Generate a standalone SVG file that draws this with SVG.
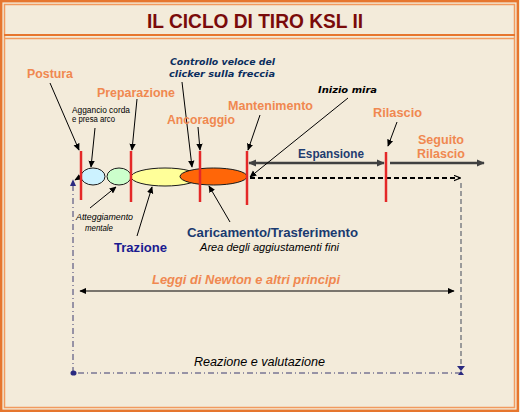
<svg xmlns="http://www.w3.org/2000/svg" width="520" height="412" viewBox="0 0 520 412">
<defs>
<style>
.lbl{font-family:"Liberation Sans",Arial,sans-serif;font-weight:bold;font-size:12.5px;fill:#F08850}
.blue{font-family:"Liberation Sans",Arial,sans-serif;font-weight:bold;font-size:13px;fill:#1F3C70}
.note{font-family:"DejaVu Sans",Verdana,sans-serif;font-weight:bold;font-style:italic;font-size:9px;fill:#0B2E5E}
.small{font-family:"Liberation Sans",Arial,sans-serif;font-size:8.5px;fill:#000}
.ital{font-family:"Liberation Sans",Arial,sans-serif;font-style:italic;font-size:10px;fill:#000}
.red{stroke:#E42828;stroke-width:2.5}
.arr{stroke:#000;stroke-width:1;fill:none;marker-end:url(#ah)}
.ell{stroke:#1a1a1a;stroke-width:1}
</style>
<marker id="ah" viewBox="0 0 10 10" refX="9" refY="5" markerWidth="7" markerHeight="7" markerUnits="userSpaceOnUse" orient="auto-start-reverse"><path d="M0,0.5 L10,5 L0,9.5 z" fill="#000"/></marker>
<marker id="gh" viewBox="0 0 10 10" refX="9" refY="5" markerWidth="8" markerHeight="8" markerUnits="userSpaceOnUse" orient="auto-start-reverse"><path d="M0,0.5 L10,5 L0,9.5 z" fill="#404040"/></marker>
<marker id="bh" viewBox="0 0 10 10" refX="9" refY="5" markerWidth="7" markerHeight="7" markerUnits="userSpaceOnUse" orient="auto-start-reverse"><path d="M0,0.5 L10,5 L0,9.5 z" fill="#2A2A80"/></marker>
<marker id="dh" viewBox="0 0 10 10" refX="9" refY="5" markerWidth="7" markerHeight="7" markerUnits="userSpaceOnUse" orient="auto"><path d="M0,1 L10,5 L0,9" fill="none" stroke="#000" stroke-width="1.5"/></marker>
</defs>
<rect x="0" y="0" width="520" height="412" fill="#F3EBDA"/>
<g id="frame" fill="none">
<rect x="1.2" y="1.2" width="516.6" height="409.6" stroke="#E6762E" stroke-width="2.4"/>
<rect x="4.5" y="4.5" width="510" height="403" stroke="#F29A5E" stroke-width="1.5"/>
<line x1="4" y1="35" x2="515" y2="35" stroke="#E6762E" stroke-width="2"/>
<line x1="4" y1="38.5" x2="515" y2="38.5" stroke="#F29A5E" stroke-width="1.5"/>
</g>
<g id="title"><text x="147" y="28" textLength="216" lengthAdjust="spacingAndGlyphs" style="font-family:'Liberation Sans',Arial,sans-serif;font-weight:bold;font-size:21px;fill:#7A0A0A">IL CICLO DI TIRO KSL II</text></g>

<g id="connectors">
<line x1="250" y1="178" x2="460" y2="178" stroke="#000" stroke-width="2" stroke-dasharray="5,3" marker-end="url(#dh)"/>
<line x1="461" y1="183" x2="461" y2="370" stroke="#9A9A9A" stroke-width="2" stroke-dasharray="5,3"/>
<line x1="461" y1="373" x2="73" y2="373" stroke="#3A3A70" stroke-width="1" stroke-dasharray="6,3,1,3"/>
<line x1="73" y1="373" x2="73" y2="180" stroke="#3A3A70" stroke-width="1" stroke-dasharray="6,3,1,3" marker-end="url(#bh)"/>
<ellipse cx="73.5" cy="373" rx="3" ry="2.6" fill="#2A2A80"/>
<path d="M457,366 L465,366 L461,371 z M458,375 L464,375 L461,371 z" fill="#2A2A80"/>
<line x1="249" y1="163" x2="384" y2="163" stroke="#404040" stroke-width="2.5" marker-start="url(#gh)" marker-end="url(#gh)"/>
<line x1="390" y1="163" x2="484" y2="163" stroke="#404040" stroke-width="2.5" marker-end="url(#gh)"/>
<line x1="80" y1="291" x2="454" y2="291" stroke="#000" stroke-width="1.2" marker-start="url(#ah)" marker-end="url(#ah)"/>
<line class="arr" x1="50" y1="83" x2="79" y2="150"/>
<line class="arr" x1="95" y1="128" x2="91" y2="167"/>
<line class="arr" x1="137" y1="99" x2="132" y2="150"/>
<line class="arr" x1="182" y1="82" x2="192" y2="167"/>
<line class="arr" x1="198" y1="127" x2="200" y2="150"/>
<line class="arr" x1="260" y1="115" x2="248" y2="150"/>
<line class="arr" x1="348" y1="98" x2="250" y2="177"/>
<line class="arr" x1="397" y1="122" x2="388" y2="146"/>
<line class="arr" x1="137" y1="236" x2="152" y2="187"/>
<line class="arr" x1="230" y1="222" x2="209" y2="186"/>
<line class="arr" x1="90" y1="208" x2="116" y2="187"/>
<line class="arr" x1="82" y1="176" x2="75" y2="180"/>
</g>

<g id="ellipses">
<ellipse class="ell" cx="93" cy="176.5" rx="12" ry="8.5" fill="#CCF2FF"/>
<ellipse class="ell" cx="119" cy="176.5" rx="12" ry="8.5" fill="#CCFFCC"/>
<ellipse class="ell" cx="165" cy="177" rx="34" ry="9" fill="#FFFF99"/>
<ellipse class="ell" cx="213.5" cy="176.5" rx="33.5" ry="8.5" fill="#FF6608"/>
</g>
<g id="markers">
<line class="red" x1="81" y1="151" x2="81" y2="200"/>
<line class="red" x1="131" y1="151" x2="131" y2="202"/>
<line class="red" x1="200" y1="151" x2="200" y2="202"/>
<line class="red" x1="247" y1="151" x2="247" y2="205"/>
<line class="red" x1="386" y1="152" x2="386" y2="202"/>
</g>

<g id="n-postura"><text class="lbl" x="27" y="78" textLength="46" lengthAdjust="spacingAndGlyphs">Postura</text></g>
<g id="n-preparazione"><text class="lbl" x="97" y="97" textLength="78" lengthAdjust="spacingAndGlyphs">Preparazione</text></g>
<g id="n-ancoraggio"><text class="lbl" x="167" y="124" textLength="68" lengthAdjust="spacingAndGlyphs">Ancoraggio</text></g>
<g id="n-mantenimento"><text class="lbl" x="228" y="110" textLength="85" lengthAdjust="spacingAndGlyphs">Mantenimento</text></g>
<g id="n-rilascio"><text class="lbl" x="373" y="117" textLength="49" lengthAdjust="spacingAndGlyphs">Rilascio</text></g>
<g id="n-seguito"><text class="lbl" x="418" y="144" textLength="46" lengthAdjust="spacingAndGlyphs" style="font-size:12px">Seguito</text><text class="lbl" x="417" y="158" textLength="48" lengthAdjust="spacingAndGlyphs" style="font-size:12px">Rilascio</text></g>
<g id="n-espansione"><text class="blue" x="298" y="158" textLength="66" lengthAdjust="spacingAndGlyphs">Espansione</text></g>
<g id="n-controllo"><text class="note" x="170" y="65" textLength="105" lengthAdjust="spacingAndGlyphs">Controllo veloce del</text><text class="note" x="169" y="77" textLength="106" lengthAdjust="spacingAndGlyphs">clicker sulla freccia</text></g>
<g id="n-inizio"><text class="note" x="318" y="93" textLength="59" lengthAdjust="spacingAndGlyphs" style="fill:#000">Inizio mira</text></g>
<g id="n-aggancio"><text class="small" x="72" y="113" textLength="58" lengthAdjust="spacingAndGlyphs">Aggancio corda</text><text class="small" x="72" y="122" textLength="43" lengthAdjust="spacingAndGlyphs">e presa arco</text></g>
<g id="n-atteggiamento"><text class="ital" x="76" y="220" textLength="57" lengthAdjust="spacingAndGlyphs" style="font-size:9.5px">Atteggiamento</text><text class="ital" x="85" y="231" textLength="28" lengthAdjust="spacingAndGlyphs" style="font-size:9.5px">mentale</text></g>
<g id="n-trazione"><text class="blue" x="114" y="252" textLength="53" lengthAdjust="spacingAndGlyphs" style="fill:#1A1A90">Trazione</text></g>
<g id="n-caricamento"><text class="blue" x="187" y="237" textLength="171" lengthAdjust="spacingAndGlyphs" style="font-size:12.5px;fill:#1A3A70">Caricamento/Trasferimento</text><text class="ital" x="200" y="251" textLength="139" lengthAdjust="spacingAndGlyphs">Area degli aggiustamenti fini</text></g>
<g id="n-newton"><text class="ital" x="152" y="284" textLength="188" lengthAdjust="spacingAndGlyphs" style="font-size:12px;font-weight:bold;fill:#F08850">Leggi di Newton e altri principi</text></g>
<g id="n-reazione"><text class="ital" x="194" y="366" textLength="131" lengthAdjust="spacingAndGlyphs" style="font-size:12px">Reazione e valutazione</text></g>
</svg>
